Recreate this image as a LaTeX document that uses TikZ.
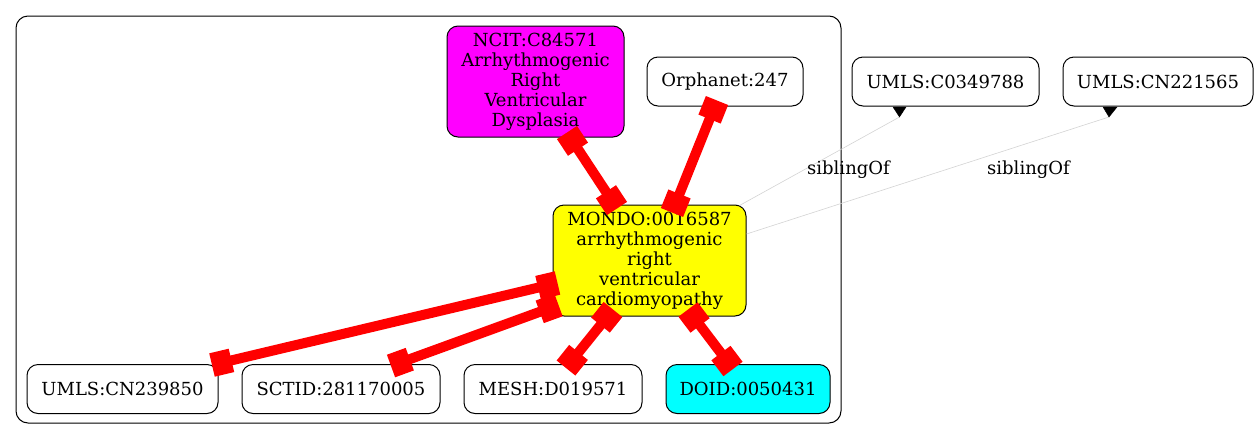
\documentclass[tikz,border=0pt]{standalone}
\usepackage{fontspec}
\setmainfont{DejaVu Serif}
\usetikzlibrary{arrows.meta,calc}
\definecolor{nmag}{HTML}{FF00FF}
\definecolor{nyel}{HTML}{FFFF00}
\definecolor{ncya}{HTML}{00FFFF}
\definecolor{sibgray}{HTML}{D3D3D3}
\begin{document}
\begin{tikzpicture}[x=1pt,y=-1pt,
  nbox/.style={draw=black, line width=1pt, rounded corners=11pt, inner sep=0pt,
    align=center, font=\fontsize{18}{20}\selectfont, minimum height=49pt},
  redge/.style={draw=red, line width=10pt,
    {Square[length=20pt,width=24pt]}-{Square[length=20pt,width=24pt]}},
  sedge/.style={draw=sibgray, line width=0.6pt},
  invtip/.style={fill=black, draw=black, line width=0.4pt},
  elabel/.style={font=\fontsize{18}{20}\selectfont, inner sep=0pt}
]
\useasboundingbox (0,0) rectangle (1259,440);
% cluster
\draw[black, line width=1pt, rounded corners=12pt] (16,16) rectangle (841,423);

% nodes
\node[nbox, fill=nmag, minimum width=177pt, minimum height=111pt] (ncit) at (535.5,81.5)
  {NCIT:C84571\\Arrhythmogenic\\Right\\Ventricular\\Dysplasia};
\node[nbox, minimum width=156pt] (orph) at (725,81.5) {Orphanet:247};
\node[nbox, minimum width=187pt] (uc0349) at (945.5,81.5) {UMLS:C0349788};
\node[nbox, minimum width=190pt] (ucn221) at (1158,81.5) {UMLS:CN221565};
\node[nbox, fill=nyel, minimum width=193pt, minimum height=111pt] (mondo) at (649.5,260.5)
  {MONDO:0016587\\arrhythmogenic\\right\\ventricular\\cardiomyopathy};
\node[nbox, minimum width=191pt] (ucn239) at (122.5,389) {UMLS:CN239850};
\node[nbox, minimum width=198pt] (sctid) at (341,389) {SCTID:281170005};
\node[nbox, minimum width=178pt] (mesh) at (553,389) {MESH:D019571};
\node[nbox, fill=ncya, minimum width=164pt] (doid) at (748,389) {DOID:0050431};

% thick mapping edges
\draw[redge] ([shift={(31.5,-5)}]ncit.south) -- ([shift={(-32.5,4)}]mondo.north);
\draw[redge] ([shift={(-8,-6)}]orph.south) -- ([shift={(22.5,8)}]mondo.north);
\draw[redge] ([shift={(5,22.5)}]mondo.west) -- ([shift={(-6.5,1)}]ucn239.north east);
\draw[redge] ([shift={(6,44.5)}]mondo.west) -- ([shift={(50,2)}]sctid.north);
\draw[redge] ([shift={(-36.5,-7)}]mondo.south) -- ([shift={(13,4)}]mesh.north);
\draw[redge] ([shift={(38.5,-7)}]mondo.south) -- ([shift={(-15,5)}]doid.north);

% sibling edges
\coordinate (s1a) at ([shift={(-7,1)}]mondo.north east);
\coordinate (s1b) at ([shift={(-46,0.5)}]uc0349.south);
\coordinate (t1) at ([shift={(0,10)}]s1b);
\coordinate (s2a) at ([shift={(0,-26.5)}]mondo.east);
\coordinate (s2b) at ([shift={(-48,0.5)}]ucn221.south);
\coordinate (t2) at ([shift={(-1,10)}]s2b);
\draw[sedge] (s1a) -- (t1);
\draw[sedge] (s2a) -- (t2);
\fill[invtip] ([shift={(-6.5,0)}]s1b) -- (t1) -- ([shift={(6.5,0)}]s1b) -- cycle;
\fill[invtip] ([shift={(-7,0)}]s2b) -- (t2) -- ([shift={(7,0)}]s2b) -- cycle;
\node[elabel] (l1) at (848.5,170) {siblingOf};
\node[elabel] (l2) at (1028.5,170) {siblingOf};
\end{tikzpicture}
\end{document}
